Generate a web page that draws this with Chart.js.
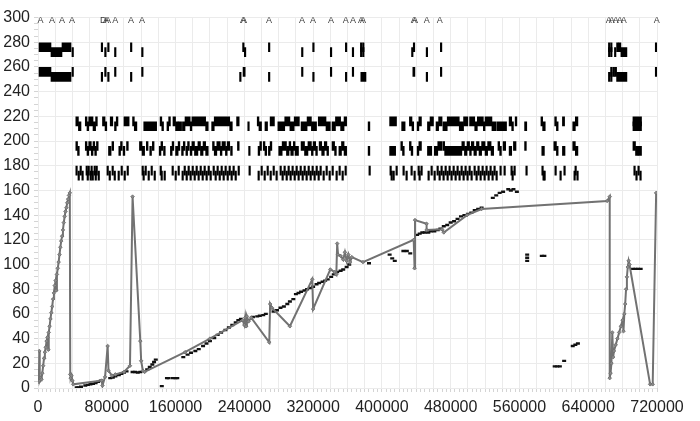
<!DOCTYPE html>
<html>
<head>
<meta charset="utf-8">
<script src="https://cdn.jsdelivr.net/npm/chart.js@4.4.1/dist/chart.umd.min.js"></script>
<style>html,body{margin:0;padding:0;background:#fff}</style>
</head>
<body>
<canvas id="c" width="700" height="421"></canvas>
<script>
// all x values below are in thousands
const K = 1000;

// gray trace [x, y]
const traceLine = [[1,5],[1.5,30],[2,6],[3,8],[4,7],[5,12],[6,18],[7,24],[8,29],[9,33],[10,38],[11,41],[12,31],[12.5,45],[13.5,50],[14.5,56],[15.5,61],[16.5,66],[17.5,72],[18.5,77],[19.5,83],[20.5,87],[21,79],[22,92],[23,97],[24,102],[25,108],[26,114],[27,119],[28,123],[29,128],[30,134],[31,139],[32,143],[33,146],[34,150],[35,153],[36,156],[37,158],[37.5,11],[38,8],[39,10],[40,6],[41,3],[74,6],[75,2],[78,9],[81,34],[82,14],[86,10],[90,11],[100,13],[107,18],[110,155],[119,38],[120,22],[122,14],[124,13],[171,29],[200,40],[238,55],[240,51],[241,57],[242,50],[243,58],[245,54],[248,57],[269,37],[270,68],[272,65],[293,50],[319,88],[320,64],[340,96],[345,94],[347,92],[348,117],[349,108],[352,107],[355,104],[357,110],[359,103],[361,108],[363,102],[365,106],[378,102],[437,120],[438,97],[438.5,136],[452,133],[452,128],[470,128.5],[472,126],[499,140],[516,145],[662,151.5],[665,155],[665,8],[666,12],[667,20],[668,45],[669,25],[670,30],[672,35],[674,40],[676,45],[678,50],[680,55],[681,46],[682,60],[683,68],[684,80],[685,90],[686,98],[687,103],[688,100],[712,3],[715,3],[719,158]];

// black dots [x, y]
const darkDots = [[45,0.5],[47,0.5],[50,1],[55,2],[58,2.5],[61,3],[64,3.5],[67,4],[70,5],[73,6],[84,8],[87,8.5],[90,9.5],[94,10.5],[97,11.5],[100,12.5],[103,13.5],[110,13],[113,13],[116,12.5],[119,13],[127,15],[130,17],[133,19],[135,21],[137,23],[144,1.5],[150,8],[152,8],[157,8],[160,8],[162,8],[169,25],[174,27],[178,28.5],[183,30],[187,31.5],[192,34],[196,36],[200,38],[205,40.5],[209,43],[213,45],[218,47],[222,49],[226,51],[230,53],[233,55],[236,56],[250,57.5],[255,58],[258,58.5],[262,59],[265,60],[274,62],[278,63],[282,65],[286,66],[290,68],[293,70],[297,72],[300,76],[303,77],[306,78],[310,79],[313,80],[317,81],[320,82],[324,84],[327,85],[331,86],[334,87],[337,88],[341,90],[344,92],[348,94],[352,95],[355,96],[359,98],[362,100],[385,101],[409,108],[412,105],[415,103],[425,111],[429,111],[433,109],[441,124],[444,125],[447,126],[450,126],[454,126],[457,127],[461,127],[465,128],[468,129],[472,131],[476,132],[480,134],[484,135],[488,137],[492,139],[496,140],[500,141],[504,142],[508,144],[512,145],[516,146],[529,154],[533,156],[537,158],[541,159],[547,161],[550,160],[553,161],[557,159],[569,103],[569,105.5],[569,108],[586,107],[589,107],[601,17.5],[604,17.5],[607,17.5],[612,22],[622,34],[625,35],[628,36],[692,96.5],[695,96.5],[698,96.5],[701,96.5]];

// track segments [x0, x1, level] (level 1 = upper half, 0 = lower half)
const rowA = [[44,47,1],[47,50,0],[55,57,1],[57,59,0],[59,64,1],[64,67,0],[67,69,1],[75,78,1],[78,80,0],[84,87,1],[89,91,0],[91,93,1],[100,106,1],[110,112,1],[112,115,0],[123,138,0],[142,144,1],[144,146,0],[150,152,0],[152,154,1],[157,160,1],[160,163,0],[163,167,0],[168,171,0],[171,177,1],[177,179,0],[179,195,1],[195,198,0],[202,205,0],[205,223,1],[223,226,0],[231,234,1],[244,245.5,0],[255,257,1],[257,260,0],[264,267,0],[270,275,1],[279,287,0],[287,293,1],[293,298,0],[298,304,1],[306,313,0],[313,318,1],[318,324,0],[326,335,1],[335,340,0],[342,346,0],[346,352,1],[352,356,0],[356,359,1],[384,386,0],[409,417,1],[423,427,0],[432,435,1],[435,437,0],[441,443,0],[443,446,1],[453,456,0],[456,460,1],[463,466,0],[466,470,1],[471,476,0],[476,490,1],[490,495,0],[495,500,1],[502,508,1],[508,511,0],[511,518,1],[518,520,0],[520,528,1],[528,533,0],[534,545,0],[548,551,1],[551,553,0],[555,557,1],[566,568.5,0],[585,587,1],[587,590,0],[601,603,1],[603,605,0],[610,612.5,1],[622,625,0],[625,628,1],[692,702,1],[692,702,0]];

const rowB = [[44,46,1],[46,48,0],[55,57,1],[57,59,0],[59,62,1],[62,64,0],[64,66,1],[66,68,0],[68,70,1],[82,85,0],[86,88,1],[94,96,0],[96,98,1],[99,101,0],[103,105,1],[118,121,1],[121,124,0],[126,128,1],[130,132,0],[133,135,1],[141,143,0],[143,145,1],[146,148,0],[154,156,0],[156,158,1],[160,163,0],[163,165,1],[167,169,0],[169,171,1],[172,174,0],[174,176,1],[177,179,0],[179,182,1],[182,186,0],[186,189,1],[189,192,0],[192,195,1],[195,198,0],[203,205,1],[205,208,0],[208,212,1],[212,214,0],[214,218,1],[218,220,0],[220,223,1],[224,226,0],[232,234,1],[245,246.5,0],[256,258,0],[258,260,1],[262,264,1],[264,266,0],[268,270,0],[270,272,1],[280,284,0],[284,289,1],[289,292,0],[292,294,1],[294,297,0],[297,299,1],[299,303,0],[306,310,1],[310,314,0],[314,318,1],[318,320,0],[320,323,1],[323,325,0],[327,330,1],[330,333,0],[333,336,1],[336,338,0],[342,345,1],[345,347,0],[350,353,0],[353,356,1],[356,359,0],[384,386,0],[409,416,0],[422,424,1],[424,426,0],[432,434,1],[434,436,0],[441,443,0],[443,446,1],[453,458,0],[461,465,0],[465,470,1],[471,473,1],[473,493,0],[493,496,1],[496,499,0],[499,502,1],[502,504,0],[504,507,1],[507,510,0],[510,513,1],[513,516,0],[516,520,1],[520,523,0],[523,527,1],[527,530,0],[535,537,1],[537,539,0],[541,544,1],[548,551,0],[553,556,1],[566,568,1],[586,589,0],[600,603,1],[603,605,0],[610,613,0],[622,625,1],[625,628,0],[692,695,1],[695,698,0],[698,702,0]];

const rowC = [[44,45.3,1],[46.5,47.8,0],[48.8,50.1,1],[51,52.3,0],[55.8,57.1,1],[57,58.3,0],[58.1,59.4,1],[60.5,61.8,0],[61.5,62.8,1],[62.8,64.1,0],[65.1,66.4,1],[66.3,67.6,0],[67.4,68.7,1],[69.8,71.1,0],[80.2,81.5,1],[82.6,83.9,0],[86,87.3,1],[88.4,89.7,0],[93,94.3,0],[96.5,97.8,1],[100,101.3,0],[103.5,104.8,1],[120.9,122.2,1],[122,123.3,0],[124.4,125.7,1],[127.9,129.2,0],[131.4,132.7,1],[134.9,136.2,0],[141.9,143.2,1],[143,144.3,0],[146.5,147.8,0],[155.8,157.1,1],[159.3,160.6,0],[162.8,164.1,1],[167.4,168.7,0],[169.8,171.1,1],[172.1,173.4,0],[174.4,175.7,1],[176.7,178,0],[179.1,180.4,1],[181.4,182.7,0],[183.7,185,1],[186,187.3,0],[188.4,189.7,1],[190.7,192,0],[193,194.3,1],[195.3,196.6,0],[197.7,199,1],[200,201.3,0],[203.5,204.8,1],[205.8,207.1,0],[208.1,209.4,1],[210.5,211.8,0],[212.8,214.1,1],[215.1,216.4,0],[217.4,218.7,1],[219.8,221.1,0],[222.1,223.4,1],[224.4,225.7,0],[226.7,228,1],[229.1,230.4,0],[232.6,233.9,1],[245.3,246.6,1],[255.8,257.1,0],[259.3,260.6,1],[262.8,264.1,0],[266.3,267.6,1],[269.8,271.1,0],[273.3,274.6,1],[276.7,278,0],[281.4,282.7,1],[283.7,285,0],[286,287.3,1],[288.4,289.7,0],[290.7,292,1],[293,294.3,0],[295.3,296.6,1],[297.7,299,0],[300,301.3,1],[302.3,303.6,0],[304.7,306,1],[307,308.3,0],[309.3,310.6,1],[311.6,312.9,0],[314,315.3,1],[316.3,317.6,0],[318.6,319.9,1],[320.9,322.2,0],[323.3,324.6,1],[325.6,326.9,0],[327.9,329.2,1],[331.4,332.7,0],[334.9,336.2,1],[338.4,339.7,0],[341.9,343.2,1],[346.5,347.8,0],[350,351.3,1],[353.5,354.8,0],[357,358.3,1],[384.9,386.2,1],[409.3,410.6,1],[410.5,411.8,0],[412.8,414.1,0],[416.3,417.6,1],[424.4,425.7,1],[427.9,429.2,0],[433.7,435,1],[437.2,438.5,0],[441.9,443.2,1],[443,444.3,0],[445.3,446.6,1],[453.5,454.8,0],[457,458.3,1],[460.5,461.8,0],[464,465.3,1],[466.3,467.6,0],[468.6,469.9,1],[470.9,472.2,0],[473.3,474.6,1],[475.6,476.9,0],[477.9,479.2,1],[480.2,481.5,0],[482.6,483.9,1],[484.9,486.2,0],[487.2,488.5,1],[489.5,490.8,0],[491.9,493.2,1],[494.2,495.5,0],[496.5,497.8,1],[498.8,500.1,0],[501.2,502.5,1],[503.5,504.8,0],[507,508.3,1],[509.3,510.6,0],[511.6,512.9,1],[514,515.3,0],[516.3,517.6,1],[518.6,519.9,0],[520.9,522.2,1],[523.3,524.6,0],[525.6,526.9,1],[527.9,529.2,0],[530.2,531.5,1],[532.6,533.9,0],[537.2,538.5,1],[541.9,543.2,1],[550,551.3,1],[551.2,552.5,0],[553.5,554.8,1],[567.4,568.7,1],[586,587.3,1],[587.2,588.5,0],[588.4,589.7,0],[601.2,602.5,1],[607,608.3,0],[611.6,612.9,1],[623.3,624.6,0],[624.5,625.8,1],[626.7,628,0],[693,694.3,1],[695.3,696.6,0],[697.7,699,1],[700,701.3,0]];

const topRow1 = [[1.2,15.1,1],[15.1,27.9,0],[27.9,38.4,1],[39.5,40.7,0],[73.5,74.8,1],[77.5,78.8,0],[81,82.3,1],[89,90.3,0],[107.5,108.8,1],[120.5,121.8,0],[238,239.3,1],[240,241.3,0],[268,269.5,1],[306.5,307.8,0],[319.5,320.8,1],[340,341.3,0],[357.5,358.8,1],[365.5,366.8,0],[375,376.3,1],[375,376.3,0],[377.5,378.8,1],[377.5,378.8,0],[436.5,437.8,1],[434.5,435.8,0],[451.5,452.8,0],[468,469.3,1],[663.5,664.8,1],[663.5,664.8,0],[666,667.3,1],[666,667.3,0],[670.5,671.8,0],[673,674.3,1],[675,678,1],[678,685,0],[718,719.5,1]];

const topRow2 = [[1.2,15.1,1],[15.1,38.4,0],[39.5,40.7,1],[73.5,74.8,0],[77.5,78.8,1],[81,82.3,0],[89,90.3,1],[107.5,108.8,0],[120.5,121.8,1],[234.5,235.8,0],[238.5,241,1],[268,269.5,0],[306.5,307.8,1],[319.5,320.8,0],[340,341.3,1],[357.5,358.8,0],[365.5,366.8,1],[375.5,381.5,0],[436,438.4,1],[451.5,452.8,0],[468,469.3,1],[663.5,664.8,0],[666,667.3,1],[666,667.3,0],[668.5,669.8,1],[670.5,673,1],[673,685,0],[718,719.5,1]];

// letter flags along the top
const flagX = [3,16.3,27.9,39.5,76,79,81.4,90,108.1,120.9,238.4,239.5,268.6,307,319.8,340.7,358.1,366.3,375.6,377.9,437.2,438.4,452.3,467.4,664,667.4,672.1,676.7,681.4,719.8];
const flagText = ['A','A','A','A','D','A','A','A','A','A','A','A','A','A','A','A','A','A','A','A','A','A','A','A','A','A','A','A','A','A'];
const flagY = 297.5;

const FONT = '"Liberation Sans", Arial, sans-serif';

function toPoints(list) {
  return list.map(p => ({x: p[0] * K, y: p[1]}));
}
function toBars(list, lo, hi) {
  return list.map(r => ({x: [r[0] * K, r[1] * K], y: r[2] ? hi : lo}));
}
function barSet(list, lo, hi) {
  return {
    type: 'bar', indexAxis: 'y', xAxisID: 'x', yAxisID: 'y',
    data: toBars(list, lo, hi),
    backgroundColor: '#000', borderWidth: 0, borderSkipped: false,
    barThickness: 9, grouped: false, minBarLength: 1.5, order: 3
  };
}

const flagPlugin = {
  id: 'flags',
  afterDatasetsDraw(chart) {
    const {ctx, scales: {x, y}} = chart;
    ctx.save();
    ctx.font = '9px ' + FONT;
    ctx.fillStyle = '#3a3a3a';
    ctx.textAlign = 'center';
    ctx.textBaseline = 'middle';
    flagX.forEach((v, i) => {
      ctx.fillText(flagText[i], x.getPixelForValue(v * K), y.getPixelForValue(flagY));
    });
    ctx.restore();
  }
};

new Chart(document.getElementById('c'), {
  type: 'line',
  data: {
    datasets: [
      {
        type: 'line', xAxisID: 'x', yAxisID: 'y',
        data: toPoints(traceLine),
        borderColor: '#727272', borderWidth: 2, tension: 0,
        pointStyle: 'rectRot', pointRadius: 1.8,
        pointBackgroundColor: '#8a8a8a', pointBorderColor: '#6a6a6a', pointBorderWidth: 0.8,
        order: 0
      },
      {
        type: 'scatter', xAxisID: 'x', yAxisID: 'y', showLine: false,
        data: toPoints(darkDots),
        pointStyle: 'line', pointRadius: 2,
        pointBorderColor: '#111', pointBorderWidth: 2.4,
        order: 1
      },
      barSet(rowA, 212, 216),
      barSet(rowB, 192, 196),
      barSet(rowC, 172, 176),
      barSet(topRow1, 272, 276),
      barSet(topRow2, 252, 256)
    ]
  },
  options: {
    responsive: false,
    animation: false,
    layout: {padding: {top: 12, right: 43, left: 0, bottom: 0}},
    plugins: {legend: {display: false}, tooltip: {enabled: false}},
    datasets: {bar: {indexAxis: 'y'}},
    scales: {
      x: {
        type: 'linear', axis: 'x', position: 'bottom', weight: 0, min: 0, max: 720000,
        offset: false, beginAtZero: false,
        border: {display: false},
        grid: {color: '#ebebeb', drawTicks: false, offset: false},
        ticks: {
          stepSize: 20000, autoSkip: false, maxRotation: 0, padding: 10,
          color: '#222', font: {size: 16, family: FONT},
          callback: v => (v % 80000 === 0 ? String(v) : '')
        },
        afterFit: s => { s.height = 33; }
      },
      xMinor: {
        type: 'linear', axis: 'x', position: 'bottom', weight: -1, min: 0, max: 720000,
        offset: false,
        border: {display: false},
        grid: {drawOnChartArea: false, color: '#d4d4d4', tickLength: 4, offset: false},
        ticks: {display: false, stepSize: 5000},
        afterFit: s => { s.height = 0; }
      },
      y: {
        type: 'linear', axis: 'y', position: 'left', weight: 0, min: 0, max: 300,
        offset: false,
        border: {display: false},
        grid: {color: '#ebebeb', drawTicks: false, offset: false},
        ticks: {stepSize: 20, padding: 8, color: '#222', font: {size: 16, family: FONT}},
        afterFit: s => { s.width = 38; }
      },
      yMinor: {
        type: 'linear', axis: 'y', position: 'left', weight: -1, min: 0, max: 300,
        offset: false,
        border: {display: false},
        grid: {drawOnChartArea: false, color: '#d4d4d4', tickLength: 4, offset: false},
        ticks: {display: false, stepSize: 5},
        afterFit: s => { s.width = 0; }
      }
    }
  },
  plugins: [flagPlugin]
});
</script>
</body>
</html>
